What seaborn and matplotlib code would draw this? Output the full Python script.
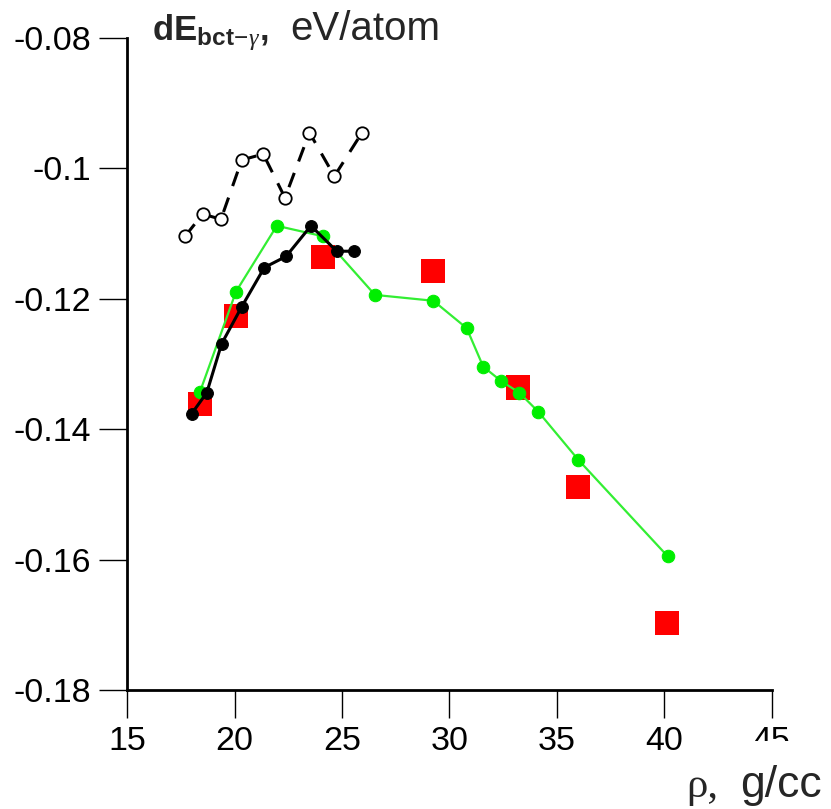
import matplotlib
matplotlib.use("Agg")
import matplotlib.pyplot as plt
import matplotlib.patches as mpatches
import seaborn as sns
import pandas as pd

# ---- data ----
open_x = [17.69, 18.51, 19.36, 20.33, 21.33, 22.34, 23.48, 24.64, 25.93]
open_y = [-0.1104, -0.1070, -0.1078, -0.0987, -0.0978, -0.1045, -0.0945, -0.1012, -0.0945]

black_x = [18.00, 18.70, 19.39, 20.33, 21.38, 22.39, 23.55, 24.75, 25.57]
black_y = [-0.1376, -0.1344, -0.1269, -0.1212, -0.1152, -0.1135, -0.1088, -0.1127, -0.1127]

green_x = [18.38, 20.06, 21.96, 24.10, 26.53, 29.25, 30.80, 31.57, 32.40, 33.25, 34.13, 36.00, 40.16]
green_y = [-0.1343, -0.1189, -0.1088, -0.1104, -0.1194, -0.1203, -0.1245, -0.1304, -0.1326,
           -0.1344, -0.1373, -0.1447, -0.1595]

red_x = [18.38, 20.06, 24.10, 29.25, 33.19, 35.97, 40.13]
red_y = [-0.1361, -0.1226, -0.1136, -0.1157, -0.1336, -0.1489, -0.1697]

x_ticks = [15, 20, 25, 30, 35, 40, 45]
y_ticks = [-0.18, -0.16, -0.14, -0.12, -0.1, -0.08]
y_ticklabels = ["-0.18", "-0.16", "-0.14", "-0.12", "-0.1", "-0.08"]

sns.set_style("white")
plt.rcParams['font.family'] = ['Liberation Sans', 'DejaVu Sans']
plt.rcParams['mathtext.fontset'] = 'custom'
plt.rcParams['mathtext.rm'] = 'Liberation Sans'
plt.rcParams['mathtext.bf'] = 'Liberation Sans:bold'
plt.rcParams['mathtext.it'] = 'Liberation Serif:italic'

fig = plt.figure(figsize=(8.31, 8.09), dpi=100)
ax = fig.add_axes([0.1532, 0.1471, 0.7754, 0.8059])

df_red = pd.DataFrame({"x": red_x, "y": red_y})
df_green = pd.DataFrame({"x": green_x, "y": green_y})
df_black = pd.DataFrame({"x": black_x, "y": black_y})
df_open = pd.DataFrame({"x": open_x, "y": open_y})

sns.scatterplot(data=df_red, x="x", y="y", marker="s", s=300, color="#ff0000",
                edgecolor="none", linewidth=0, ax=ax, zorder=2)
sns.lineplot(data=df_green, x="x", y="y", sort=False, color="#33ee33", linewidth=1.6,
             marker="o", markersize=9, markerfacecolor="#00ee00", markeredgecolor="#00ee00",
             ax=ax, zorder=3)
sns.lineplot(data=df_black, x="x", y="y", sort=False, color="black", linewidth=2.2,
             marker="o", markersize=8.5, markerfacecolor="black", markeredgecolor="black",
             ax=ax, zorder=4)
sns.lineplot(data=df_open, x="x", y="y", sort=False, color="black", linewidth=2.2,
             ax=ax, zorder=5)
ax.lines[-1].set_dashes([5, 4])
sns.scatterplot(data=df_open, x="x", y="y", marker="o", s=80, facecolor="white",
                edgecolor="black", linewidth=1.3, ax=ax, zorder=6)

ax.set_xlim(15, 45)
ax.set_ylim(-0.18, -0.08)
ax.set_xticks(x_ticks)
ax.set_yticks(y_ticks)
ax.set_yticklabels(y_ticklabels)
ax.set_xlabel("")
ax.set_ylabel("")

for s in ["top", "right"]:
    ax.spines[s].set_visible(False)
for s in ["left", "bottom"]:
    ax.spines[s].set_linewidth(2.0)
    ax.spines[s].set_color("black")

ax.tick_params(axis="both", direction="out", length=20, width=1.0, colors="black",
               labelsize=24.5, pad=6, left=True, bottom=True)

# y-axis unit label
fig.text(152 / 831, 1 - 40 / 809, r"$\mathbf{dE}_{\mathbf{bct}\!-\!\gamma}\mathbf{,}$", fontsize=25,
         ha="left", va="baseline")
fig.text(290 / 831, 1 - 40 / 809, "eV/atom", fontsize=29, ha="left", va="baseline")

# white patch hiding most of the "45" tick label
fig.patches.append(mpatches.Rectangle((735 / 831, 0), 96 / 831, 1 - 741 / 809,
                                      transform=fig.transFigure, facecolor="white",
                                      edgecolor="none", zorder=9))

# x-axis unit label
fig.text(686 / 831, 1 - 797 / 809, "ρ,", fontsize=31, family="Liberation Serif",
         ha="left", va="baseline", zorder=10)
fig.text(740 / 831, 1 - 797 / 809, "g/cc", fontsize=32, ha="left", va="baseline", zorder=10)

fig.savefig("out.png", dpi=100)
